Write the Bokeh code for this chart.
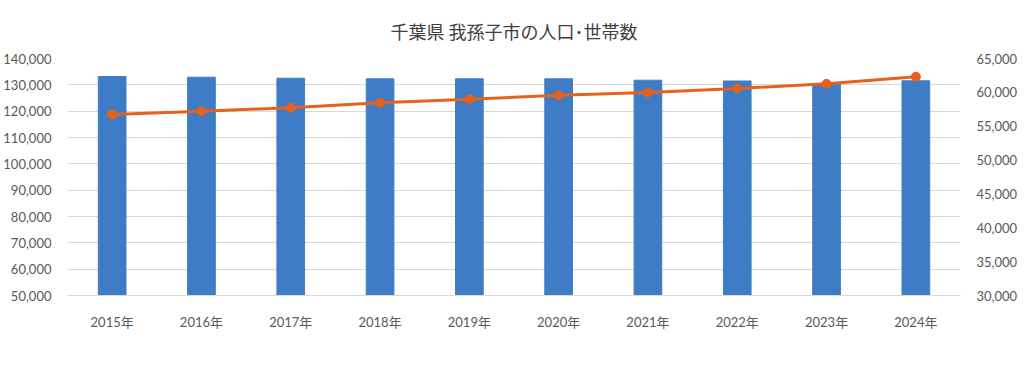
from bokeh.plotting import figure
from bokeh.models import (Range1d, LinearAxis, FixedTicker, NumeralTickFormatter,
                          Legend, LegendItem, ColumnDataSource, FactorRange)
from bokeh.embed import file_html
from bokeh.resources import INLINE

title = "千葉県 我孫子市の人口･世帯数"
years = ["2015年", "2016年", "2017年", "2018年", "2019年",
         "2020年", "2021年", "2022年", "2023年", "2024年"]
population = [133160, 132900, 132520, 132290, 132290,
              132290, 131760, 131450, 130200, 131530]
households = [56730, 57220, 57720, 58460, 58990,
              59580, 59980, 60570, 61260, 62300]
left_ticks = [50000, 60000, 70000, 80000, 90000, 100000, 110000, 120000, 130000, 140000]
right_ticks = [30000, 35000, 40000, 45000, 50000, 55000, 60000, 65000]

BAR = "#3E7DC5"
LINE = "#E6611D"
TXT = "#595959"
GRID = "#d9d9d9"
FONT = "Lato, 'Noto Sans CJK JP'"

src = ColumnDataSource(dict(year=years, pop=population, hh=households))

p = figure(frame_width=893, frame_height=237, x_range=FactorRange(*years),
           y_range=Range1d(left_ticks[0], left_ticks[-1]),
           output_backend="svg", toolbar_location=None, tools="",
           min_border_left=60, min_border_right=55, min_border_top=10,
           min_border_bottom=4)
p.extra_y_ranges = {"hh": Range1d(right_ticks[0], right_ticks[-1])}

p.title.text = title
p.title.align = "center"
p.title.text_font = "'Noto Sans CJK JP'"
p.title.text_font_size = "18px"
p.title.text_font_style = "normal"
p.title.text_color = "#404040"
p.title.standoff = 30

bars = p.vbar(x="year", top="pop", bottom=left_ticks[0], width=0.31, source=src,
              fill_color=BAR, line_color=BAR)
ln = p.line(x="year", y="hh", source=src, y_range_name="hh",
            line_color=LINE, line_width=3)
mk = p.scatter(x="year", y="hh", source=src, y_range_name="hh",
               size=9, fill_color=LINE, line_color=LINE)

p.outline_line_color = None
p.xgrid.grid_line_color = None
p.ygrid.grid_line_color = GRID
p.ygrid.ticker = FixedTicker(ticks=left_ticks)

yl = p.yaxis[0]
yl.ticker = FixedTicker(ticks=left_ticks)
yl.formatter = NumeralTickFormatter(format="0,0")

yr = LinearAxis(y_range_name="hh", ticker=FixedTicker(ticks=right_ticks),
                formatter=NumeralTickFormatter(format="0,0"))
p.add_layout(yr, "right")

for ax in [yl, yr]:
    ax.axis_line_color = None
    ax.major_tick_line_color = None
    ax.minor_tick_line_color = None
    ax.major_label_text_color = TXT
    ax.major_label_text_font = FONT
    ax.major_label_text_font_size = "13px"
    ax.major_label_standoff = 10

xa = p.xaxis[0]
xa.axis_line_color = GRID
xa.major_tick_line_color = None
xa.minor_tick_line_color = None
xa.major_label_text_color = TXT
xa.major_label_text_font = FONT
xa.major_label_text_font_size = "13px"
xa.major_label_standoff = 12

legend = Legend(items=[LegendItem(label="人口", renderers=[bars]),
                       LegendItem(label="世帯数", renderers=[ln, mk])],
                orientation="horizontal", location="center",
                label_text_font=FONT, label_text_font_size="13px",
                label_text_color=TXT, border_line_color=None,
                background_fill_alpha=0, glyph_width=28, glyph_height=10,
                spacing=14, margin=4, padding=4)
p.add_layout(legend, "below")

open("out.html", "w").write(file_html(p, INLINE))
